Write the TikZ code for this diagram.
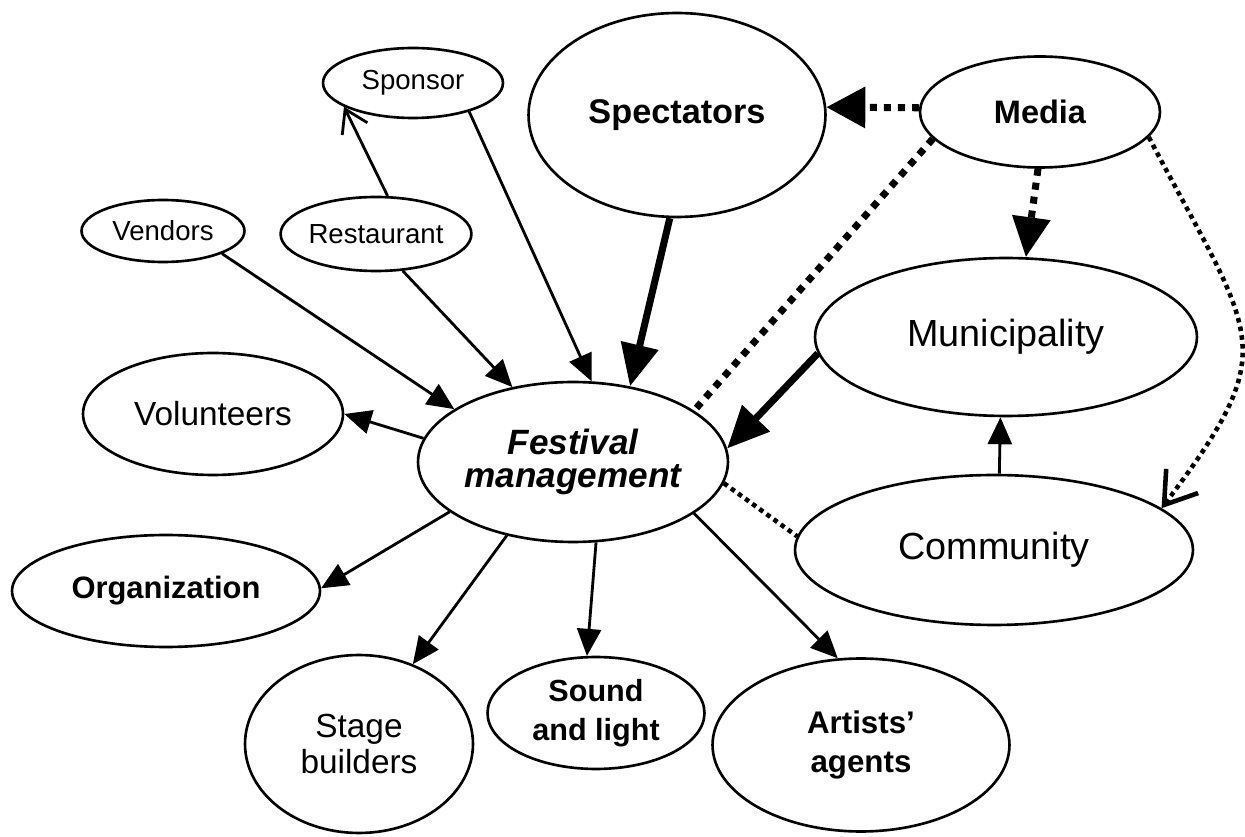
\documentclass[tikz,border=0pt]{standalone}
\usepackage{fontspec}
\setmainfont{Liberation Sans}
\usetikzlibrary{shapes.geometric, arrows.meta}

\begin{document}
\begin{tikzpicture}[x=0.02cm, y=-0.02cm,
    party/.style={draw, ellipse, line width=1.5pt, inner sep=0pt, align=center},
    minor/.style={party, font=\fontsize{15.7}{18}\selectfont},
    plain/.style={party, font=\fontsize{19}{20.5}\selectfont},
    large/.style={party, font=\fontsize{21.5}{24}\selectfont},
    key/.style={party, font=\bfseries\fontsize{17.6}{22}\selectfont},
    link/.style={-{Triangle[length=0.54cm, width=0.48cm]}, line width=1.6pt},
    strong/.style={-{Triangle[length=0.84cm, width=0.74cm]}, line width=4pt},
    press/.style={line width=4pt, dash pattern=on 4pt off 4pt},
    faint/.style={line width=2.6pt, dash pattern=on 2.6pt off 2.4pt},
    barb/.style={-{Straight Barb[length=0.44cm, width=0.56cm]}, line width=1.6pt}
]
\useasboundingbox (0,0) rectangle (1245,837);

\node[minor, minimum width=3.6cm, minimum height=1.4cm] (sponsor) at (413,83) {Sponsor};
\node[key, font=\bfseries\fontsize{19.5}{22}\selectfont, minimum width=5.94cm, minimum height=4.08cm] (spectators) at (677,115) {Spectators};
\node[key, font=\bfseries\fontsize{18.5}{22}\selectfont, minimum width=4.8cm, minimum height=2.22cm] (media) at (1040,112) {Media};
\node[minor, minimum width=3.26cm, minimum height=1.24cm] (vendors) at (163,231) {Vendors};
\node[minor, minimum width=3.74cm, minimum height=1.48cm] (restaurant) at (376,234) {Restaurant};
\node[large, minimum width=7.64cm, minimum height=3.16cm] (municipality) at (1006,337) {Municipality};
\node[plain, minimum width=5.2cm, minimum height=2.44cm] (volunteers) at (213,414) {Volunteers};
\node[party, font=\bfseries\itshape\fontsize{20}{19}\selectfont, minimum width=6.2cm, minimum height=3.2cm] (festival) at (573,462) {Festival\\management};
\node[large, minimum width=7.96cm, minimum height=3cm] (community) at (994,550) {Community};
\node[key, minimum width=6.16cm, minimum height=2.24cm] (organization) at (166,591) {Organization};
\node[plain, minimum width=4.56cm, minimum height=3.56cm] (stage) at (359,744) {Stage\\builders};
\node[key, font=\bfseries\fontsize{17.4}{22}\selectfont, minimum width=4.34cm, minimum height=2.24cm] (sound) at (596,713) {Sound\\and light};
\node[key, font=\bfseries\fontsize{17.8}{22}\selectfont, minimum width=5.94cm, minimum height=3.46cm] (artists) at (861,745) {Artists'\\agents};

\draw[barb] (restaurant.73) -- (sponsor.199);
\draw[link] (sponsor.-27) -- (festival.77);
\draw[link] (vendors.-21) -- (festival.156);
\draw[link] (restaurant.-54) -- (festival.129);
\draw[strong] (spectators.266) -- (festival.53);
\draw[press, -{Triangle[length=0.78cm, width=0.8cm]}] (media.178) -- (spectators.3);
\draw[press] (media.194) -- (festival.23);
\draw[press, -{Triangle[length=0.8cm, width=0.74cm]}] (media.268) -- (municipality.76);
\draw[faint, -{Straight Barb[length=0.6cm, width=0.8cm]}] (media.-13) .. controls (1255,340) and (1285,345) .. (community.14);
\draw[strong] (municipality.185) -- (festival.5);
\draw[link] (community.86) -- (municipality.266);
\draw[faint] (festival.-8) -- (community.176);
\draw[link] (festival.171) -- (volunteers.east);
\draw[link] (festival.202) -- (organization.1);
\draw[link] (festival.228) -- (stage.56);
\draw[link] (festival.286) -- (sound.99);
\draw[link] (festival.337) -- (artists.105);
\end{tikzpicture}
\end{document}
